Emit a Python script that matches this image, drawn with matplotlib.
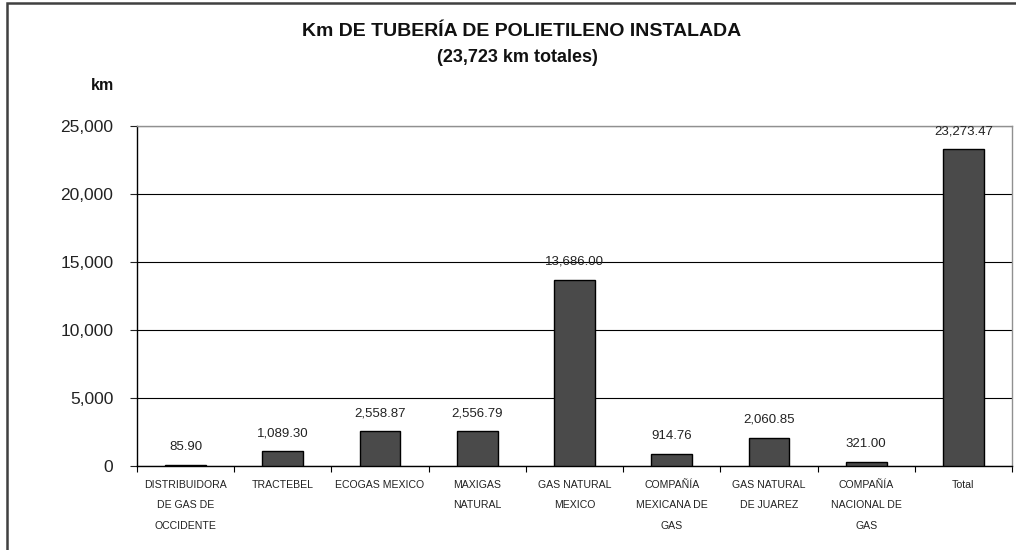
import matplotlib.pyplot as plt
import numpy as np
from matplotlib.patches import Rectangle
from matplotlib.ticker import FuncFormatter

plt.rcParams['font.family'] = ['Liberation Sans', 'DejaVu Sans']

categories = [
    'DISTRIBUIDORA\nDE GAS DE\nOCCIDENTE',
    'TRACTEBEL',
    'ECOGAS MEXICO',
    'MAXIGAS\nNATURAL',
    'GAS NATURAL\nMEXICO',
    'COMPAÑÍA\nMEXICANA DE\nGAS',
    'GAS NATURAL\nDE JUAREZ',
    'COMPAÑÍA\nNACIONAL DE\nGAS',
    'Total',
]
km = [85.90, 1089.30, 2558.87, 2556.79, 13686.00, 914.76, 2060.85, 321.00, 23273.47]
y_ticks = [0, 5000, 10000, 15000, 20000, 25000]

fig = plt.figure(figsize=(10.16, 5.5), dpi=100)
ax = fig.add_axes([137 / 1016, 1 - 466 / 550, (1012 - 137) / 1016, (466 - 126) / 550])

x = np.arange(len(km))
ax.bar(x, km, width=0.42, color='#4a4a4a', edgecolor='black', linewidth=1.0, zorder=3)

for xi, v in zip(x, km):
    ax.annotate(f'{v:,.2f}', (xi, v), xytext=(0, 13), textcoords='offset points',
                ha='center', va='center', fontsize=9.5, color='#222222')

ax.set_xlim(-0.5, len(km) - 0.5)
ax.set_ylim(0, 25000)
ax.set_yticks(y_ticks)
ax.yaxis.set_major_formatter(FuncFormatter(lambda v, p: f'{v:,.0f}'))
ax.tick_params(axis='y', labelsize=12.5, length=5, width=0.8, pad=12, colors='#222222')
ax.yaxis.grid(True, color='black', linewidth=0.8, zorder=0)

ax.set_xticks(x)
ax.set_xticklabels(categories, fontsize=7.6, linespacing=2.3, color='#222222')
ax.tick_params(axis='x', length=0, pad=10)
ax.set_xticks(np.arange(len(km) + 1) - 0.5, minor=True)
ax.tick_params(axis='x', which='minor', length=4, width=0.8, direction='out')

for side in ['top', 'right']:
    ax.spines[side].set_color('#909090')
    ax.spines[side].set_linewidth(1.0)
ax.spines['left'].set_linewidth(1.0)
ax.spines['bottom'].set_linewidth(1.0)

fig.text(522 / 1016, 1 - 32 / 550, 'Km DE TUBERÍA DE POLIETILENO INSTALADA',
         ha='center', va='center', fontsize=14, fontweight='bold', color='#111111')
fig.text(517 / 1016, 1 - 58 / 550, '(23,723 km totales)',
         ha='center', va='center', fontsize=13, fontweight='bold', color='#111111')
fig.text(102 / 1016, 1 - 86 / 550, 'km',
         ha='center', va='center', fontsize=11.5, fontweight='bold', color='#111111')

fig.patches.append(Rectangle((7 / 1016, -0.1), 1.2, 1.1 - 3 / 550, transform=fig.transFigure,
                             fill=False, edgecolor='#404040', linewidth=1.8))

fig.savefig('out.png', dpi=100)
